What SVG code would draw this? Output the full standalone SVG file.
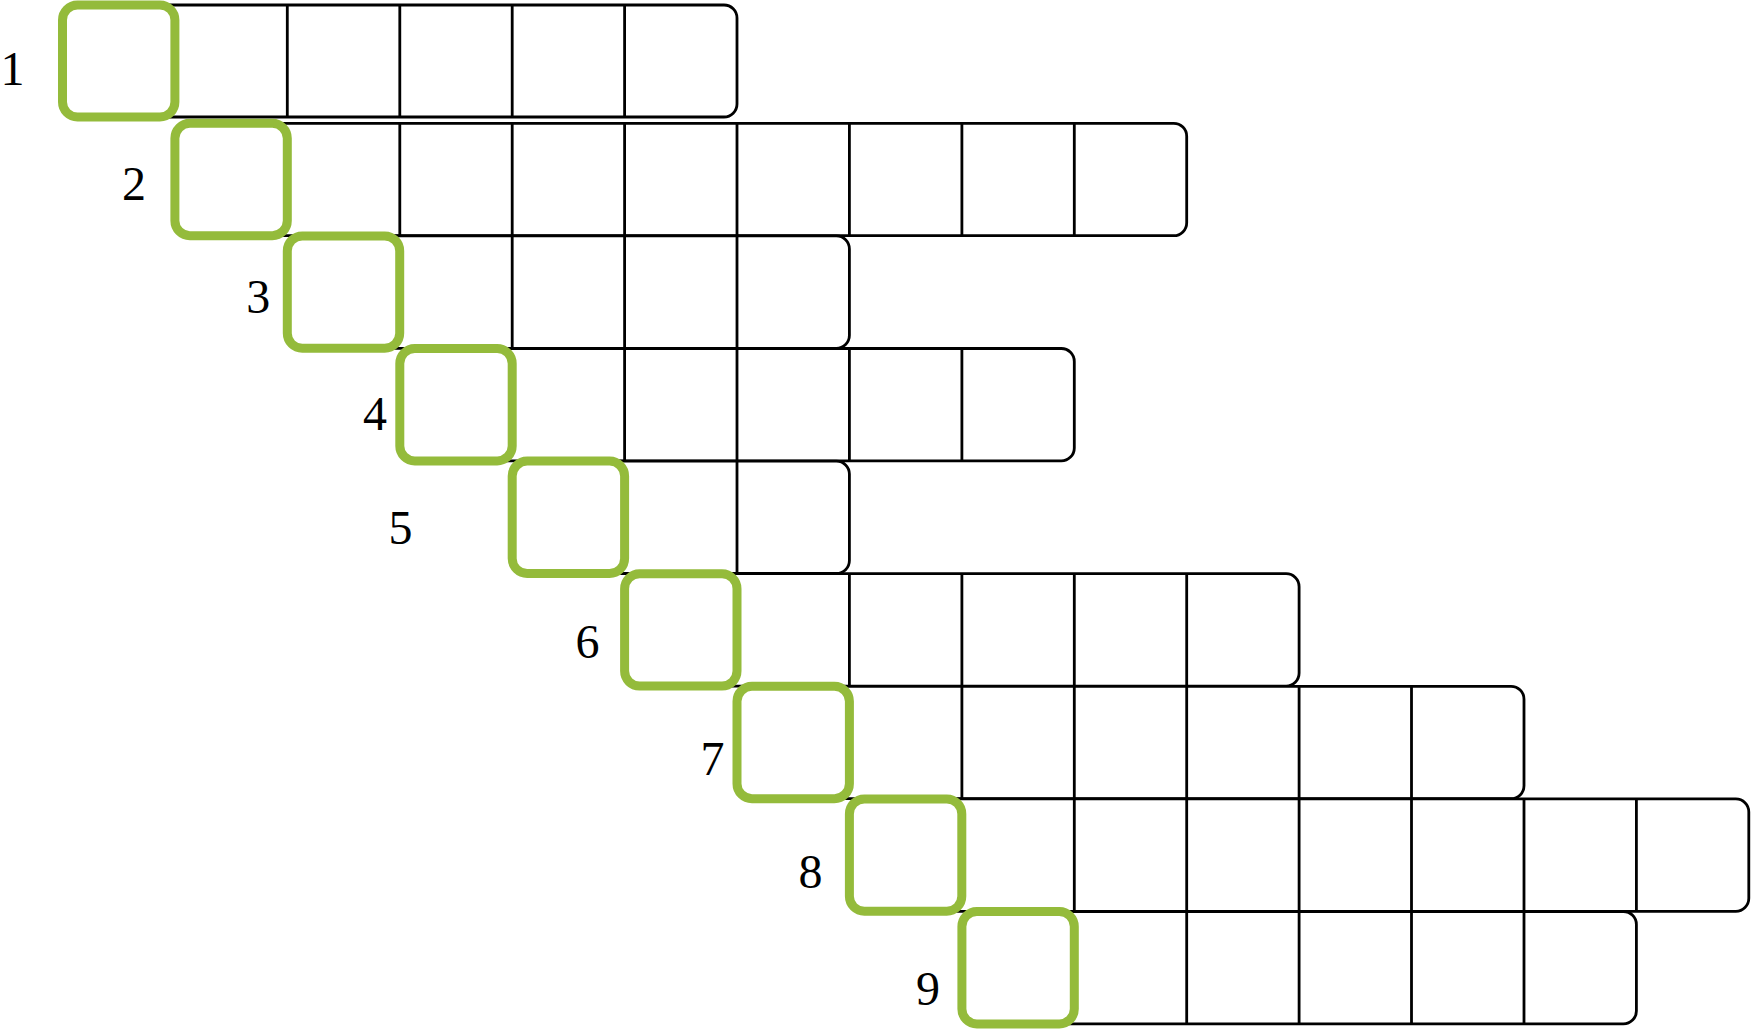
<svg xmlns="http://www.w3.org/2000/svg" width="1752" height="1029" viewBox="0 0 1752 1029">
<style>
.row{fill:#ffffff;stroke:#000000;stroke-width:2.8}
.div{stroke:#000000;stroke-width:2.8;fill:none}
.start{fill:none;stroke:#94bb3b;stroke-width:9}
.lbl{font-family:"Liberation Serif","Times New Roman",serif;font-size:48px;fill:#000000;text-anchor:middle}
</style>
<rect x="0" y="0" width="1752" height="1029" fill="#ffffff"/>
<g id="rows">
<g id="row-1">
<rect class="row" x="62.5" y="5" width="674.5" height="112" rx="13"/>
<path class="div" d="M287.3 5V117M399.8 5V117M512.2 5V117M624.6 5V117"/>
</g>
<g id="row-2">
<rect class="row" x="174.9" y="123.3" width="1011.8" height="112.4" rx="13"/>
<path class="div" d="M399.8 123.3V235.7M512.2 123.3V235.7M624.6 123.3V235.7M737 123.3V235.7M849.4 123.3V235.7M961.9 123.3V235.7M1074.3 123.3V235.7"/>
</g>
<g id="row-3">
<rect class="row" x="287.3" y="235.9" width="562.1" height="112.4" rx="13"/>
<path class="div" d="M512.2 235.9V348.3M624.6 235.9V348.3M737 235.9V348.3"/>
</g>
<g id="row-4">
<rect class="row" x="399.8" y="348.5" width="674.5" height="112.4" rx="13"/>
<path class="div" d="M624.6 348.5V460.9M737 348.5V460.9M849.4 348.5V460.9M961.9 348.5V460.9"/>
</g>
<g id="row-5">
<rect class="row" x="512.2" y="461.1" width="337.2" height="112.4" rx="13"/>
<path class="div" d="M737 461.1V573.5"/>
</g>
<g id="row-6">
<rect class="row" x="624.6" y="573.7" width="674.5" height="112.4" rx="13"/>
<path class="div" d="M849.4 573.7V686.1M961.9 573.7V686.1M1074.3 573.7V686.1M1186.7 573.7V686.1"/>
</g>
<g id="row-7">
<rect class="row" x="737" y="686.3" width="787" height="112.4" rx="13"/>
<path class="div" d="M961.9 686.3V798.7M1074.3 686.3V798.7M1186.7 686.3V798.7M1299.1 686.3V798.7M1411.5 686.3V798.7"/>
</g>
<g id="row-8">
<rect class="row" x="849.4" y="798.9" width="899.4" height="112.4" rx="13"/>
<path class="div" d="M1074.3 798.9V911.3M1186.7 798.9V911.3M1299.1 798.9V911.3M1411.5 798.9V911.3M1524 798.9V911.3M1636.4 798.9V911.3"/>
</g>
<g id="row-9">
<rect class="row" x="961.9" y="911.5" width="674.5" height="112.4" rx="13"/>
<path class="div" d="M1186.7 911.5V1023.9M1299.1 911.5V1023.9M1411.5 911.5V1023.9M1524 911.5V1023.9"/>
</g>
</g>
<g id="start-cells">
<g id="start-1"><rect class="start" x="62.5" y="5" width="112.4" height="112" rx="15"/><text class="lbl" x="12.5" y="85">1</text></g>
<g id="start-2"><rect class="start" x="174.9" y="123.3" width="112.4" height="112.4" rx="15"/><text class="lbl" x="134" y="200">2</text></g>
<g id="start-3"><rect class="start" x="287.3" y="235.9" width="112.4" height="112.4" rx="15"/><text class="lbl" x="258.3" y="313.3">3</text></g>
<g id="start-4"><rect class="start" x="399.8" y="348.5" width="112.4" height="112.4" rx="15"/><text class="lbl" x="375" y="430">4</text></g>
<g id="start-5"><rect class="start" x="512.2" y="461.1" width="112.4" height="112.4" rx="15"/><text class="lbl" x="400.5" y="544">5</text></g>
<g id="start-6"><rect class="start" x="624.6" y="573.7" width="112.4" height="112.4" rx="15"/><text class="lbl" x="587.5" y="658.3">6</text></g>
<g id="start-7"><rect class="start" x="737" y="686.3" width="112.4" height="112.4" rx="15"/><text class="lbl" x="712.5" y="775">7</text></g>
<g id="start-8"><rect class="start" x="849.4" y="798.9" width="112.4" height="112.4" rx="15"/><text class="lbl" x="810.5" y="888.3">8</text></g>
<g id="start-9"><rect class="start" x="961.9" y="911.5" width="112.4" height="112.4" rx="15"/><text class="lbl" x="928" y="1005">9</text></g>
</g>
</svg>
